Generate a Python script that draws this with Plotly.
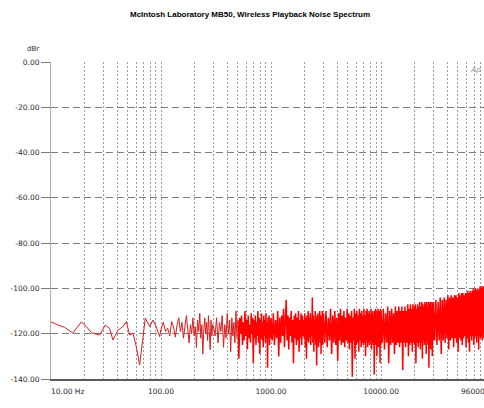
import math
import plotly.graph_objects as go

# ---------------- data ----------------
TITLE = "McIntosh Laboratory MB50, Wireless Playback Noise Spectrum"
Y_UNIT = "dBr"

Y_TICKS = [0, -20, -40, -60, -80, -100, -120, -140]
Y_TICK_LABELS = ["0.00", "-20.00", "-40.00", "-60.00", "-80.00", "-100.00", "-120.00", "-140.00"]

X_TICKS = [10, 100, 1000, 10000]
X_TICK_LABELS = ["\u00a0" * 14 + "10.00 Hz", "100.00", "1000.00", "10000.00"]
X_LAST_TICK = 96000
X_LAST_LABEL = "96000.00"
X_MINOR = [20, 30, 40, 50, 60, 70, 80, 90,
           200, 300, 400, 500, 600, 700, 800, 900,
           2000, 3000, 4000, 5000, 6000, 7000, 8000, 9000,
           20000, 30000, 40000, 50000, 60000, 70000, 80000, 90000]
X_RANGE_HZ = [10, 86300]
Y_RANGE_DB = [-140, 0]

# ---- sparse part of the spectrum: 10 Hz .. 490 Hz ----
FREQ_A = [10.0, 11.6, 13.3, 15.8, 18.9, 21.0, 23.3, 27.7, 31.1, 34.0, 36.6, 40.6,
          45.0, 48.4, 51.9, 55.6, 59.6, 63.9, 68.5, 71.9, 79.0, 84.5, 90.6, 97.3]
LEVEL_A = [-114.7, -116.2, -117.2, -119.7, -114.8, -116.9, -119.6, -120.6, -116.2, -117.6, -122.8, -118.4,
           -116.9, -114.7, -120.6, -119.8, -125.7, -133.8, -121.9, -113.1, -116.9, -114.0, -116.9, -121.3]

FREQ_B = [100, 105, 110, 115, 120, 125, 130, 135, 140, 145,
          150, 155, 160, 165, 170, 175, 180, 185, 190, 195,
          200, 205, 210, 215, 220, 225, 230, 235, 240, 245,
          250, 255, 260, 265, 270, 275, 280, 285, 290, 295]
LEVEL_B = [-118, -115, -119, -117.6, -121, -114.7, -117, -121.5, -116, -113,
           -119, -115, -122, -117, -112, -118, -124, -116, -120, -113,
           -121, -117, -126, -114, -119, -111, -122, -116, -129, -118,
           -113, -120, -115, -123, -112, -119, -127, -114, -121, -116]

FREQ_C1 = [300, 310, 320, 330, 340, 350, 360, 370, 380, 390,
           400, 410, 420, 430, 440, 450, 460, 470, 480, 490]
LEVEL_C1 = [-117, -121, -113, -124, -115, -119, -112, -126, -116, -122,
            -111, -120, -114, -128, -113, -121, -115, -124, -110, -122]

# ---- dense part of the spectrum: 500 Hz .. 88.5 kHz ----
FREQ_C2 = [500, 510, 520, 530, 540, 550, 560, 570, 580, 590,
           600, 610, 620, 630, 640, 650, 660, 670, 680, 690,
           700, 710, 720, 730, 740, 750, 760, 770, 780, 790,
           800, 810, 820, 830, 840, 850, 860, 870, 880, 890,
           900, 910, 920, 930, 940, 950, 960, 970, 980, 990]
LEVEL_C2 = [-114, -131, -113, -120, -112, -125, -115, -123, -110, -121,
            -114, -127, -112, -122, -116, -124, -111, -120, -113, -133,
            -114, -122, -112, -125, -115, -121, -110, -124, -113, -129,
            -114, -122, -111, -123, -115, -126, -112, -121, -114, -124,
            -111, -122, -115, -135, -113, -121, -112, -125, -114, -122]

FREQ_D = [1000, 1025, 1050, 1075, 1100, 1125, 1150, 1175, 1200, 1225,
          1250, 1275, 1300, 1325, 1350, 1375, 1400, 1425, 1450, 1475,
          1500, 1525, 1550, 1575, 1600, 1625, 1650, 1675, 1700, 1725,
          1750, 1775, 1800, 1825, 1850, 1875, 1900, 1925, 1950, 1975,
          2000, 2025, 2050, 2075, 2100, 2125, 2150, 2175, 2200, 2225,
          2250, 2275, 2300, 2325, 2350, 2375, 2400, 2425, 2450, 2475,
          2500, 2525, 2550, 2575, 2600, 2625, 2650, 2675, 2700, 2725,
          2750, 2775, 2800, 2825, 2850, 2875, 2900, 2925, 2950, 2975]
LEVEL_D = [-113, -123, -111, -125, -114, -122, -110, -130, -113, -124,
           -112, -121, -109, -126, -114, -105, -123, -112, -127, -113,
           -121, -110, -124, -114, -133, -112, -122, -111, -125, -113,
           -123, -110, -128, -114, -122, -111, -125, -112, -121, -114,
           -122, -111, -126, -113, -131, -112, -123, -110, -124, -113,
           -122, -111, -125, -114, -121, -104, -124, -112, -128, -114,
           -122, -110, -125, -113, -134, -112, -123, -111, -126, -114,
           -121, -110, -124, -112, -129, -113, -122, -110, -125, -112]

FREQ_E = [3000, 3080, 3160, 3240, 3320, 3400, 3480, 3560, 3640, 3720,
          3800, 3880, 3960, 4040, 4120, 4200, 4280, 4360, 4440, 4520,
          4600, 4680, 4760, 4840, 4920, 5000, 5080, 5160, 5240, 5320,
          5400, 5480, 5560, 5640, 5720, 5800, 5880, 5960, 6040, 6120,
          6200, 6280, 6360, 6440, 6520, 6600, 6680, 6760, 6840, 6920,
          7000, 7080, 7160, 7240, 7320, 7400, 7480, 7560, 7640, 7720,
          7800, 7880, 7960, 8040, 8120, 8200, 8280, 8360, 8440, 8520,
          8600, 8680, 8760, 8840, 8920, 9000, 9080, 9160, 9240, 9320,
          9400, 9480, 9560, 9640, 9720, 9800, 9880, 9960]
LEVEL_E = [-111, -124, -110, -126, -113, -123, -109, -129, -112, -124,
           -110, -125, -113, -132, -111, -123, -109, -125, -112, -124,
           -110, -126, -113, -123, -109, -124, -111, -127, -112, -124,
           -110, -139, -113, -123, -109, -131, -111, -125, -110, -124,
           -112, -128, -109, -123, -111, -126, -110, -124, -112, -125,
           -109, -124, -112, -130, -110, -123, -109, -126, -111, -124,
           -110, -125, -112, -123, -109, -127, -111, -124, -110, -125,
           -112, -138, -110, -125, -109, -124, -112, -130, -110, -123,
           -109, -126, -111, -124, -110, -133, -109, -125]

FREQ_F = [10000, 10250, 10500, 10750, 11000, 11250, 11500, 11750, 12000, 12250,
          12500, 12750, 13000, 13250, 13500, 13750, 14000, 14250, 14500, 14750,
          15000, 15250, 15500, 15750, 16000, 16250, 16500, 16750, 17000, 17250,
          17500, 17750, 18000, 18250, 18500, 18750, 19000, 19250, 19500, 19750,
          20000, 20250, 20500, 20750, 21000, 21250, 21500, 21750, 22000, 22250,
          22500, 22750, 23000, 23250, 23500, 23750, 24000, 24250, 24500, 24750,
          25000, 25250, 25500, 25750, 26000, 26250, 26500, 26750, 27000, 27250,
          27500, 27750, 28000, 28250, 28500, 28750, 29000, 29250, 29500, 29750]
LEVEL_F = [-110, -124, -109, -127, -111, -124, -108, -133, -110, -125,
           -109, -124, -111, -129, -108, -125, -110, -124, -108, -126,
           -110, -124, -108, -136, -110, -124, -108, -126, -110, -124,
           -107, -130, -109, -125, -107, -124, -109, -128, -107, -124,
           -108, -125, -107, -133, -109, -124, -107, -126, -108, -124,
           -106, -127, -108, -124, -106, -131, -107, -123, -108, -125,
           -106, -124, -107, -129, -106, -123, -108, -125, -106, -135,
           -107, -124, -106, -127, -108, -123, -106, -130, -107, -123]

FREQ_G = [30000, 30750, 31500, 32250, 33000, 33750, 34500, 35250, 36000, 36750,
          37500, 38250, 39000, 39750, 40500, 41250, 42000, 42750, 43500, 44250,
          45000, 45750, 46500, 47250, 48000, 48750, 49500, 50250, 51000, 51750,
          52500, 53250, 54000, 54750, 55500, 56250, 57000, 57750, 58500, 59250,
          60000, 60750, 61500, 62250, 63000, 63750, 64500, 65250, 66000, 66750,
          67500, 68250, 69000, 69750, 70500, 71250, 72000, 72750, 73500, 74250,
          75000, 75750, 76500, 77250, 78000, 78750, 79500, 80250, 81000, 81750,
          82500, 83250, 84000, 84750, 85500, 86250, 87000, 87750, 88500]
LEVEL_G = [-106, -123, -105, -125, -106, -123, -104, -129, -105, -123,
           -104, -124, -105, -122, -103, -127, -104, -123, -103, -122,
           -104, -126, -103, -122, -103, -124, -104, -128, -102, -122,
           -103, -123, -102, -125, -102, -122, -103, -121, -102, -126,
           -102, -122, -101, -124, -102, -128, -101, -121, -102, -123,
           -101, -121, -100, -125, -101, -122, -100, -121, -101, -124,
           -100, -121, -101, -127, -100, -121, -99, -122, -100, -121,
           -99, -123, -100, -120, -99, -122, -100, -120, -99]

freq_sparse = FREQ_A + FREQ_B + FREQ_C1
level_sparse = LEVEL_A + LEVEL_B + LEVEL_C1
freq_dense = FREQ_C2 + FREQ_D + FREQ_E + FREQ_F + FREQ_G
level_dense = LEVEL_C2 + LEVEL_D + LEVEL_E + LEVEL_F + LEVEL_G

# ---------------- figure ----------------
W, H = 484, 408
HGRID = "#7c7c7c"
VGRID = "#9a9a9a"
TICK_FONT = dict(family="DejaVu Sans, Liberation Sans, Arial", size=7.5, color="#2a2a2a")

fig = go.Figure()
fig.add_trace(go.Scatter(
    x=freq_sparse, y=level_sparse, mode="lines",
    line=dict(color="#dc1e1e", width=1),
    hoverinfo="skip", showlegend=False,
))
fig.add_trace(go.Scatter(
    x=freq_dense, y=level_dense, mode="lines",
    line=dict(color="#ff0000", width=1.5),
    hoverinfo="skip", showlegend=False,
))

log_lo = math.log10(X_RANGE_HZ[0])
log_hi = math.log10(X_RANGE_HZ[1])

fig.update_layout(
    width=W, height=H,
    margin=dict(l=51, r=0, t=62, b=29, pad=0),
    paper_bgcolor="white", plot_bgcolor="white",
    title=dict(
        text="<b>" + TITLE + "</b>",
        font=dict(family="Liberation Sans, Arial", size=8, color="#000"),
        x=250 / W, xanchor="center", xref="container",
        y=1 - 14 / H, yanchor="middle", yref="container",
    ),
    xaxis=dict(
        type="log", range=[log_lo, log_hi],
        tickmode="array", tickvals=X_TICKS, ticktext=X_TICK_LABELS,
        tickfont=TICK_FONT,
        ticks="outside", ticklen=4, tickcolor="rgba(0,0,0,0)",
        showgrid=True, gridcolor=VGRID, gridwidth=1, griddash="2px,2px",
        minor=dict(tickmode="array", tickvals=X_MINOR, showgrid=True,
                   gridcolor=VGRID, gridwidth=1, griddash="2px,2px", ticks=""),
        showline=True, linecolor="#5a5a5a", linewidth=2,
        zeroline=False, fixedrange=True,
    ),
    yaxis=dict(
        range=Y_RANGE_DB,
        tickmode="array", tickvals=Y_TICKS, ticktext=Y_TICK_LABELS,
        tickfont=TICK_FONT,
        ticks="outside", ticklen=9, tickcolor=HGRID, tickwidth=1,
        showgrid=True, gridcolor=HGRID, gridwidth=1, griddash="7px,4px",
        showline=True, linecolor="#b0b0b0", linewidth=1,
        zeroline=False, fixedrange=True,
    ),
    annotations=[
        dict(text=Y_UNIT, xref="paper", yref="paper", x=0, y=1,
             xanchor="right", yanchor="middle", xshift=-10, yshift=13,
             showarrow=False, font=dict(family="DejaVu Sans, Arial", size=7, color="#2a2a2a")),
        dict(text=X_LAST_LABEL, xref="x domain", yref="paper",
             x=(math.log10(X_LAST_TICK) - log_lo) / (log_hi - log_lo), y=0,
             xanchor="center", yanchor="top", xshift=-10, yshift=-6,
             showarrow=False, font=TICK_FONT),
        dict(text="<i>Ap</i>", xref="paper", yref="paper", x=1, y=1,
             xanchor="right", yanchor="top", xshift=-1, yshift=-1,
             showarrow=False, font=dict(family="Liberation Sans, Arial", size=8, color="#9a9a9a")),
    ],
)

fig.write_html("out.html", config={"displayModeBar": False})
